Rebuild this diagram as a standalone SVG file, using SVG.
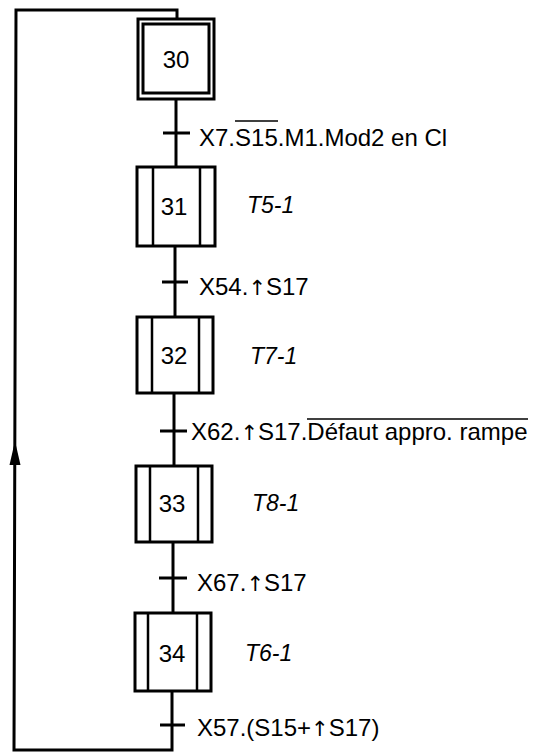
<svg xmlns="http://www.w3.org/2000/svg" width="537" height="754" viewBox="0 0 537 754">
<style>
.box{fill:none;stroke:#000;stroke-width:3}
.bar{stroke:#000;stroke-width:2.5}
.ln{fill:none;stroke:#000;stroke-width:3}
.num{font-family:"Liberation Sans",Arial,sans-serif;font-size:24px;text-anchor:middle;fill:#000}
.act{font-family:"Liberation Sans",Arial,sans-serif;font-size:23px;font-style:italic;fill:#000}
.cond{font-family:"Liberation Sans",Arial,sans-serif;font-size:24px;fill:#000}
.up{font-family:"DejaVu Sans",sans-serif;font-size:21px}
.ov{stroke:#000;stroke-width:1.5}
</style>
<rect width="537" height="754" fill="#fff"/>
<g id="connectors">
<polyline class="ln" points="177,19 177,10 16,10 14,750 172,750 172,691"/>
<path d="M15,441 L9.5,465 L20.5,465 Z" fill="#000"/>
<line class="ln" x1="176" y1="99" x2="176" y2="167"/>
<line class="ln" x1="175" y1="246" x2="175" y2="317"/>
<line class="ln" x1="174" y1="393" x2="174" y2="466"/>
<line class="ln" x1="173" y1="542" x2="173" y2="613"/>
</g>
<g id="step30">
<rect class="box" x="138" y="19" width="76" height="80"/>
<rect class="box" x="143" y="24" width="66" height="69"/>
<text class="num" x="176" y="68">30</text>
</g>
<g id="t1">
<line class="ln" x1="163" y1="133" x2="190" y2="133"/>
<text class="cond" x="199" y="146">X7.S15.M1.Mod2 en Cl</text>
<line class="ov" x1="235" y1="121" x2="278" y2="121"/>
</g>
<g id="step31">
<rect class="box" x="137" y="167" width="78" height="79"/>
<line class="bar" x1="153" y1="167" x2="153" y2="246"/>
<line class="bar" x1="200" y1="167" x2="200" y2="246"/>
<text class="num" x="174" y="215">31</text>
<text class="act" x="247" y="213">T5-1</text>
</g>
<g id="t2">
<line class="ln" x1="162" y1="282" x2="188" y2="282"/>
<text class="cond" x="199" y="295">X54.<tspan class="up">↑</tspan>S17</text>
</g>
<g id="step32">
<rect class="box" x="137" y="317" width="76" height="76"/>
<line class="bar" x1="152" y1="317" x2="152" y2="393"/>
<line class="bar" x1="199" y1="317" x2="199" y2="393"/>
<text class="num" x="174" y="364">32</text>
<text class="act" x="250" y="364">T7-1</text>
</g>
<g id="t3">
<line class="ln" x1="160" y1="431" x2="187" y2="431"/>
<text class="cond" x="191" y="440">X62.<tspan class="up">↑</tspan>S17.Défaut appro. rampe</text>
<line class="ov" x1="307" y1="419" x2="528" y2="419"/>
</g>
<g id="step33">
<rect class="box" x="136" y="466" width="76" height="76"/>
<line class="bar" x1="150" y1="466" x2="150" y2="542"/>
<line class="bar" x1="198" y1="466" x2="198" y2="542"/>
<text class="num" x="172" y="512">33</text>
<text class="act" x="252" y="511">T8-1</text>
</g>
<g id="t4">
<line class="ln" x1="159" y1="578" x2="187" y2="578"/>
<text class="cond" x="197" y="591">X67.<tspan class="up">↑</tspan>S17</text>
</g>
<g id="step34">
<rect class="box" x="135" y="613" width="76" height="78"/>
<line class="bar" x1="148" y1="613" x2="148" y2="691"/>
<line class="bar" x1="197" y1="613" x2="197" y2="691"/>
<text class="num" x="172" y="662">34</text>
<text class="act" x="245" y="661">T6-1</text>
</g>
<g id="t5">
<line class="ln" x1="160" y1="725" x2="185" y2="725"/>
<text class="cond" x="197" y="736">X57.(S15+<tspan class="up">↑</tspan>S17)</text>
</g>
</svg>
